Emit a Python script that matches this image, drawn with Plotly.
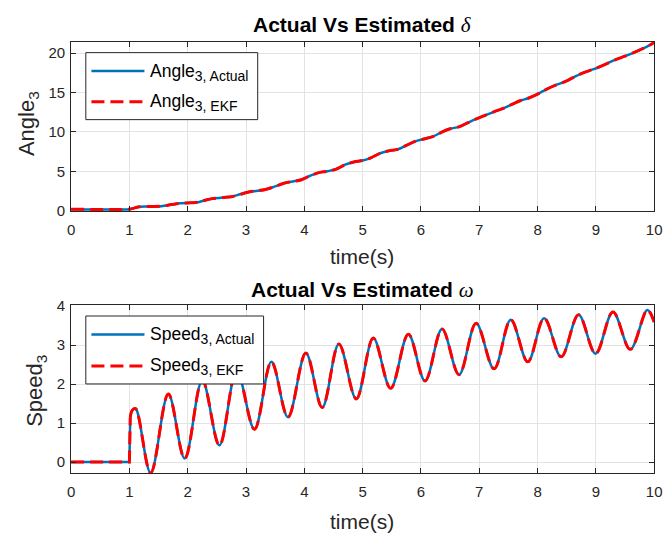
import plotly.graph_objects as go

W, H = 672, 546

# ---------------- data ----------------
time_angle = [0.0, 1.0, 1.08, 1.15, 1.35, 1.55, 1.72, 1.88, 2.05, 2.18, 2.3, 2.42, 2.6, 2.75,
              2.9, 3.05, 3.2, 3.35, 3.5, 3.65, 3.8, 3.95, 4.1, 4.25, 4.4, 4.55, 4.7, 4.85,
              5.0, 5.15, 5.3, 5.45, 5.6, 5.75, 5.9, 6.05, 6.2, 6.35, 6.5, 6.65, 6.8, 6.95,
              7.1, 7.25, 7.4, 7.55, 7.7, 7.85, 8.0, 8.15, 8.3, 8.45, 8.6, 8.75, 8.9, 9.05,
              9.2, 9.35, 9.5, 9.65, 9.8, 9.9, 10.0]
angle_actual = [0.22, 0.22, 0.35, 0.5, 0.55, 0.6, 0.8, 0.97, 1.02, 1.1, 1.35, 1.55, 1.68, 1.8,
                2.1, 2.4, 2.55, 2.75, 3.1, 3.5, 3.72, 3.95, 4.45, 4.85, 5.02, 5.3, 5.85, 6.2,
                6.38, 6.75, 7.3, 7.6, 7.8, 8.3, 8.8, 9.1, 9.4, 9.95, 10.4, 10.65, 11.15, 11.65,
                12.1, 12.55, 12.95, 13.45, 13.95, 14.3, 14.79, 15.4, 15.9, 16.3, 16.85, 17.4, 17.8, 18.2,
                18.7, 19.2, 19.6, 20.05, 20.55, 20.9, 21.33]
angle_ekf = list(angle_actual)

time_speed = [0.0, 1.0, 1.015, 1.05, 1.107, 1.365, 1.668, 1.949, 2.25, 2.544, 2.84, 3.145,
              3.436, 3.72, 4.026, 4.307, 4.593, 4.891, 5.183, 5.48, 5.784, 6.07, 6.362,
              6.653, 6.946, 7.254, 7.541, 7.832, 8.113, 8.405, 8.703, 8.995, 9.293, 9.59,
              9.882, 10.0]
speed_actual = [0.0, 0.0, 1.15, 1.33, 1.37, -0.28, 1.745, 0.09, 2.1, 0.43, 2.35, 0.84,
                2.57, 1.15, 2.80, 1.40, 3.03, 1.62, 3.18, 1.89, 3.28, 2.08, 3.41,
                2.24, 3.56, 2.39, 3.65, 2.57, 3.69, 2.70, 3.78, 2.78, 3.85, 2.89,
                3.90, 3.59]
speed_ekf = list(speed_actual)
STEP_END = 3  # the first three speed samples (flat part and jump) are joined by straight lines

x_ticks = [0, 1, 2, 3, 4, 5, 6, 7, 8, 9, 10]
angle_ticks = [0, 5, 10, 15, 20]
speed_ticks = [0, 1, 2, 3, 4]

BLUE = "#0072BD"
RED = "#FF0000"
TXT = "#262626"
FONT = "Liberation Sans, Arial, Helvetica, sans-serif"
DASH = "13px,6px"


def px(x):
    return x / W


def py(y):
    return 1 - y / H


fig = go.Figure()


def blue(width=2.5, shape="spline"):
    return dict(color=BLUE, width=width, shape=shape, smoothing=1)


def red(width=3, shape="spline"):
    return dict(color=RED, width=width, dash=DASH, shape=shape, smoothing=1)


fig.add_trace(go.Scatter(x=time_angle, y=angle_actual, mode="lines", name="Angle3, Actual",
                         line=blue(), xaxis="x", yaxis="y", showlegend=False))
fig.add_trace(go.Scatter(x=time_angle, y=angle_ekf, mode="lines", name="Angle3, EKF",
                         line=red(), xaxis="x", yaxis="y", showlegend=False))

# speed, actual: step part (linear) + oscillating part (spline)
fig.add_trace(go.Scatter(x=time_speed[:STEP_END], y=speed_actual[:STEP_END], mode="lines",
                         name="Speed3, Actual", line=blue(shape="linear"),
                         xaxis="x2", yaxis="y2", showlegend=False))
fig.add_trace(go.Scatter(x=time_speed[STEP_END - 1:], y=speed_actual[STEP_END - 1:], mode="lines",
                         name="Speed3, Actual", line=blue(),
                         xaxis="x2", yaxis="y2", showlegend=False))
fig.add_trace(go.Scatter(x=time_speed[:STEP_END], y=speed_ekf[:STEP_END], mode="lines",
                         name="Speed3, EKF", line=red(shape="linear"),
                         xaxis="x2", yaxis="y2", showlegend=False))
fig.add_trace(go.Scatter(x=time_speed[STEP_END - 1:], y=speed_ekf[STEP_END - 1:], mode="lines",
                         name="Speed3, EKF", line=red(),
                         xaxis="x2", yaxis="y2", showlegend=False))

axis_common = dict(showline=True, linecolor=TXT, linewidth=1, mirror="ticks",
                   ticks="inside", ticklen=5, tickcolor=TXT, tickwidth=1,
                   showgrid=True, gridcolor="#e3e3e3", gridwidth=1, zeroline=False,
                   tickfont=dict(family=FONT, size=15, color=TXT))

x_dom = [px(68.3), px(662)]
fig.update_layout(
    width=W, height=H,
    margin=dict(l=0, r=0, t=0, b=0),
    paper_bgcolor="white", plot_bgcolor="white",
    xaxis=dict(domain=x_dom, range=[0, 10], tickvals=x_ticks, anchor="y",
               ticklabelstandoff=5, **axis_common),
    yaxis=dict(domain=[py(209), py(35)], range=[0, 21.4], tickvals=angle_ticks, anchor="x",
               ticklabelstandoff=2, **axis_common),
    xaxis2=dict(domain=x_dom, range=[0, 10], tickvals=x_ticks, anchor="y2",
                ticklabelstandoff=5, **axis_common),
    yaxis2=dict(domain=[py(479), py(306.3)], range=[-0.28, 4.02], tickvals=speed_ticks, anchor="x2",
                ticklabelstandoff=2, **axis_common),
)

ann = []
SERIF = "font-family:'Liberation Serif','DejaVu Serif',serif;font-style:italic;font-weight:normal"
# titles
ann.append(dict(x=px(365), y=py(17), xref="paper", yref="paper", showarrow=False,
                xanchor="center", yanchor="middle",
                text="<b>Actual Vs Estimated </b><span style=\"" + SERIF + "\">δ</span>",
                font=dict(family=FONT, size=21, color="black")))
ann.append(dict(x=px(365), y=py(290), xref="paper", yref="paper", showarrow=False,
                xanchor="center", yanchor="middle",
                text="<b>Actual Vs Estimated </b><span style=\"" + SERIF + "\">ω</span>",
                font=dict(family=FONT, size=21, color="black")))
# axis labels
for yy in (256, 529):
    ann.append(dict(x=px(365), y=py(yy), xref="paper", yref="paper", showarrow=False,
                    xanchor="center", yanchor="middle", text="time(s)",
                    font=dict(family=FONT, size=21, color=TXT)))
ann.append(dict(x=px(24), y=py(119), xref="paper", yref="paper", showarrow=False,
                xanchor="center", yanchor="middle", text="Angle<sub>3</sub>", textangle=-90,
                font=dict(family=FONT, size=22, color=TXT)))
ann.append(dict(x=px(33), y=py(394), xref="paper", yref="paper", showarrow=False,
                xanchor="center", yanchor="middle", text="Speed<sub>3</sub>", textangle=-90,
                font=dict(family=FONT, size=22, color=TXT)))

shapes = []


def legend(box, rows):
    x0, y0, x1, y1 = box
    shapes.append(dict(type="rect", xref="paper", yref="paper", x0=px(x0), x1=px(x1),
                       y0=py(y1), y1=py(y0), line=dict(color=TXT, width=1), fillcolor="white",
                       layer="above"))
    for (ly, color, dash, width, main, sub) in rows:
        shapes.append(dict(type="line", xref="paper", yref="paper", x0=px(89), x1=px(143),
                           y0=py(ly), y1=py(ly), line=dict(color=color, width=width, dash=dash),
                           layer="above"))
        ann.append(dict(x=px(147), y=py(ly + 1), xref="paper", yref="paper", showarrow=False,
                        xanchor="left", yanchor="middle",
                        text=main + "<sub><span style=\"font-size:14px\">" + sub + "</span></sub>",
                        font=dict(family=FONT, size=17.5, color="black")))


legend((83.3, 46, 258.3, 115), [
    (65, BLUE, "solid", 2.5, "Angle", "3, Actual"),
    (96.7, RED, DASH, 3, "Angle", "3, EKF"),
])
legend((83.3, 317.3, 264.3, 387.3), [
    (336.3, BLUE, "solid", 2.5, "Speed", "3, Actual"),
    (368.7, RED, DASH, 3, "Speed", "3, EKF"),
])

fig.update_layout(annotations=ann, shapes=shapes)
fig.write_html("out.html")
